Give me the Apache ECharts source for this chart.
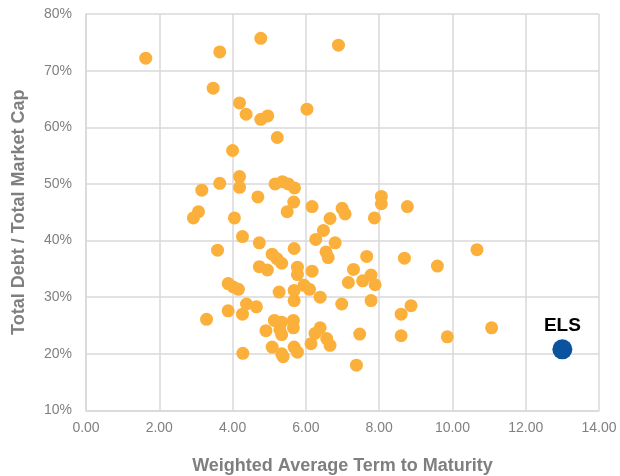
<!DOCTYPE html>
<html>
<head>
<meta charset="utf-8">
<script src="https://cdn.jsdelivr.net/npm/echarts@6/dist/echarts.min.js"></script>
<style>html,body{margin:0;padding:0;background:#fff}#c{width:620px;height:476px}</style>
</head>
<body>
<div id="c"></div>
<script>
// Peer data: [weighted average term to maturity (years), total debt / total market cap (%)]
const peerTerm = [1.63,3.65,4.77,6.89,3.47,4.19,4.37,4.77,4.96,6.03,5.22,4.00,4.19,4.19,3.65,3.16,4.69,5.16,5.36,5.52,5.69,5.67,5.49,6.17,6.66,6.99,7.07,7.87,8.06,8.06,8.77,3.07,2.93,4.05,4.27,4.73,3.59,5.68,6.27,6.48,6.80,6.55,6.61,7.66,8.69,9.59,10.67,5.08,5.21,5.34,4.73,4.95,5.77,5.77,6.17,7.30,7.16,7.55,7.78,7.89,7.78,3.88,4.02,4.16,5.27,5.68,5.68,5.95,6.10,6.39,6.98,3.88,4.38,4.65,4.27,3.29,5.14,5.34,5.66,5.66,5.29,4.91,5.34,6.39,6.25,6.57,6.66,6.14,7.47,5.08,5.68,5.34,5.77,5.38,4.28,7.38,8.60,8.87,11.07,9.86,8.60];
const peerDebt = [72.2,73.3,75.7,74.5,66.9,64.3,62.3,61.4,62.0,63.2,58.2,55.9,51.3,49.4,50.1,48.9,47.7,50.0,50.4,50.0,49.3,46.8,45.1,46.0,43.9,45.7,44.7,44.0,47.8,46.5,46.0,45.1,44.0,44.0,40.7,39.6,38.3,38.6,40.2,41.8,39.6,38.0,37.0,37.2,36.9,35.5,38.4,37.6,36.8,36.0,35.4,34.8,35.3,34.0,34.6,34.9,32.6,32.9,33.9,32.2,29.4,32.4,31.8,31.4,30.9,31.2,29.4,32.1,31.4,30.0,28.8,27.6,28.8,28.3,27.0,26.1,25.9,25.6,25.9,24.6,24.3,24.1,23.4,24.6,23.6,22.7,21.5,21.8,23.5,21.2,21.2,20.0,20.3,19.5,20.1,18.0,27.0,28.5,24.6,23.0,23.2];
const elsTerm = [13.0];
const elsDebt = [20.8];
const elsName = 'ELS';
const xTicks = {min: 0, max: 14, interval: 2};
const yTicks = {min: 10, max: 80, interval: 10};
const xTitle = 'Weighted Average Term to Maturity';
const yTitle = 'Total Debt / Total Market Cap';

const peerData = peerTerm.map((t, i) => [t, peerDebt[i]]);
const elsData = elsTerm.map((t, i) => [t, elsDebt[i]]);
const FONT = '"Liberation Sans", Arial, sans-serif';
const chart = echarts.init(document.getElementById('c'), null, {renderer: 'canvas'});
chart.setOption({
  animation: false,
  backgroundColor: '#ffffff',
  grid: {left: 86, right: 21, top: 14, bottom: 65.5, containLabel: false, outerBoundsMode: 'none'},
  xAxis: {
    type: 'value', min: xTicks.min, max: xTicks.max, interval: xTicks.interval,
    name: xTitle, nameLocation: 'middle', nameGap: 47,
    nameTextStyle: {fontFamily: FONT, fontSize: 18, fontWeight: 'bold', color: '#7f7f7f'},
    axisLine: {show: true, lineStyle: {color: '#d9d9d9', width: 1.5}},
    axisTick: {show: false},
    axisLabel: {fontFamily: FONT, fontSize: 14, color: '#808080', margin: 11,
      formatter: v => v.toFixed(2)},
    splitLine: {show: true, lineStyle: {color: '#d9d9d9', width: 1.5}}
  },
  yAxis: {
    type: 'value', min: yTicks.min, max: yTicks.max, interval: yTicks.interval,
    name: yTitle, nameLocation: 'middle', nameGap: 58, nameRotate: 90,
    nameTextStyle: {fontFamily: FONT, fontSize: 18, fontWeight: 'bold', color: '#7f7f7f'},
    axisLine: {show: true, lineStyle: {color: '#d9d9d9', width: 1.5}},
    axisTick: {show: false},
    axisLabel: {fontFamily: FONT, fontSize: 14, color: '#808080', margin: 14,
      formatter: v => v + '%'},
    splitLine: {show: true, lineStyle: {color: '#d9d9d9', width: 1.5}}
  },
  series: [
    {
      type: 'scatter', data: peerData, symbol: 'circle', symbolSize: 13,
      itemStyle: {color: '#FBB03B', opacity: 1}
    },
    {
      type: 'scatter', data: elsData, symbol: 'circle', symbolSize: 20,
      itemStyle: {color: '#0B539E', opacity: 1},
      label: {show: true, position: 'top', distance: 4, formatter: elsName,
        fontFamily: FONT, fontSize: 19, fontWeight: 'bold', color: '#000'}
    }
  ]
});
</script>
</body>
</html>
